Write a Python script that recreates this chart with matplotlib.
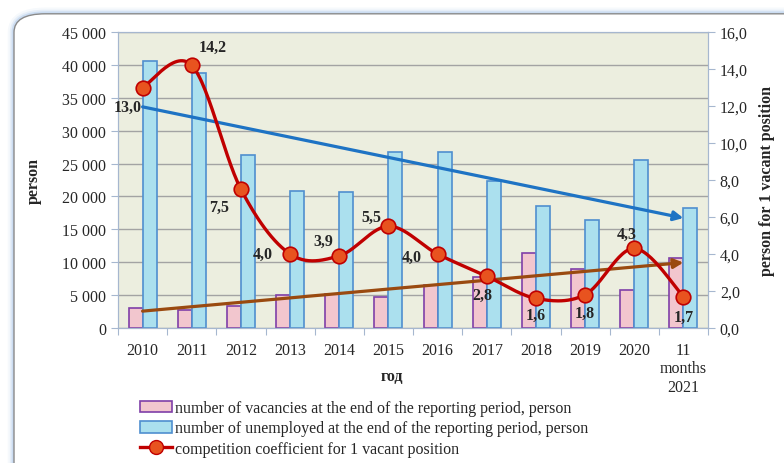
import numpy as np
import matplotlib
matplotlib.use("Agg")
import matplotlib.pyplot as plt
from matplotlib.patches import FancyBboxPatch, Patch
from matplotlib.lines import Line2D

years = ['2010', '2011', '2012', '2013', '2014', '2015', '2016', '2017',
         '2018', '2019', '2020', '11\nmonths\n2021']
vacancies = [3000, 2700, 3350, 5060, 5150, 4760, 6530, 7800, 11400, 8900, 5830, 10600]
unemployed = [40600, 38800, 26250, 20800, 20700, 26800, 26800, 22400, 18600, 16450, 25500, 18300]
coef = [13.0, 14.2, 7.5, 4.0, 3.9, 5.5, 4.0, 2.8, 1.6, 1.8, 4.3, 1.7]
# label offsets in pixels (dx, dy)
label_off = [(-15, -19), (21, 18), (-22, -18), (-27, 0), (-16, 15), (-17, 9),
             (-26, -3), (-4, -19), (0, -16), (0, -18), (-8, 15), (0, -20)]

plt.rcParams['font.family'] = 'Liberation Serif'
txt = '#262626'

fig = plt.figure(figsize=(7.84, 4.64), dpi=100)

# rounded frame with bluish glow
for lw, a in [(9, 0.08), (6, 0.15), (3.5, 0.3)]:
    fig.patches.append(FancyBboxPatch((14 / 784, -0.2), 1.2, (449 + 93) / 464,
                                      boxstyle="round,pad=0,rounding_size=0.04",
                                      transform=fig.transFigure, fc='none',
                                      ec='#8DB4E2', lw=lw, alpha=a, zorder=-2))
fig.patches.append(FancyBboxPatch((14 / 784, -0.2), 1.2, (449 + 93) / 464,
                                  boxstyle="round,pad=0,rounding_size=0.04",
                                  transform=fig.transFigure, fc='white',
                                  ec='#8A8A8A', lw=1.0, zorder=-1))

ax = fig.add_axes([118 / 784, 1 - 329 / 464, 590 / 784, 296 / 464])
ax.set_facecolor('#ECEEDF')
x = np.arange(len(years))
w = 0.285
ax.bar(x - w / 2, vacancies, w, color='#F2C6CE', edgecolor='#7F3FA8', lw=1.2, zorder=2)
ax.bar(x + w / 2, unemployed, w, color='#ABE0EE', edgecolor='#4F8FCF', lw=1.2, zorder=2)

ax.set_ylim(0, 45000)
ax.set_xlim(-0.5, len(years) - 0.5)
ax.set_yticks(np.arange(0, 45001, 5000))
ax.set_yticklabels([f"{v:,}".replace(',', ' ') for v in range(0, 45001, 5000)])
ax.yaxis.grid(True, color='#A3A3A3', lw=1)
ax.set_axisbelow(True)
ax.set_xticks(np.arange(-0.5, len(years), 1))
ax.set_xticklabels([])
ax.set_xticks(x, minor=True)
ax.set_xticklabels(years, minor=True, fontsize=11.5, color=txt, linespacing=1.2)
ax.tick_params(axis='x', which='minor', length=0, pad=10)
ax.tick_params(axis='x', which='major', length=5, color='#A6B7CF')
ax.tick_params(axis='y', length=5, color='#A6B7CF', labelsize=11.5, labelcolor=txt)
for s in ax.spines.values():
    s.set_color('#A6B7CF')
ax.set_ylabel('person', fontsize=11.5, fontweight='bold', color=txt, labelpad=15)
fig.text(392 / 784, 1 - 377 / 464, 'год', fontsize=11.5, fontweight='bold',
         color=txt, ha='center', va='center')

# linear trends with arrows
for data, col in [(unemployed, '#1E73C4'), (vacancies, '#9A4A10')]:
    k, b = np.polyfit(x, data, 1)
    ax.annotate('', xy=(x[-1], k * x[-1] + b), xytext=(x[0], k * x[0] + b),
                arrowprops=dict(arrowstyle='-|>', color=col, lw=2.3,
                                mutation_scale=14, shrinkA=0, shrinkB=0), zorder=4)

ax2 = ax.twinx()
ax2.set_ylim(0, 16)
ax2.set_yticks(np.arange(0, 16.1, 2))
ax2.set_yticklabels([f"{v:.1f}".replace('.', ',') for v in np.arange(0, 16.1, 2)])
ax2.tick_params(axis='y', length=5, color='#A6B7CF', labelsize=11.5, labelcolor=txt)
for s in ax2.spines.values():
    s.set_color('#A6B7CF')
ax2.set_ylabel('person for 1 vacant position', fontsize=11.5, fontweight='bold',
               color=txt, labelpad=8)

# smoothed line (bezier through points, excel-like)
px = x.astype(float)
py = np.array(coef)
sx, sy = [], []
t = np.linspace(0, 1, 30)
for i in range(len(px) - 1):
    p0 = np.array([px[i], py[i]])
    p3 = np.array([px[i + 1], py[i + 1]])
    prev = np.array([px[i - 1], py[i - 1]]) if i > 0 else p0
    nxt = np.array([px[i + 2], py[i + 2]]) if i + 2 < len(px) else p3
    p1 = p0 + (p3 - prev) / 6
    p2 = p3 - (nxt - p0) / 6
    seg = ((1 - t) ** 3)[:, None] * p0 + (3 * (1 - t) ** 2 * t)[:, None] * p1 \
        + (3 * (1 - t) * t ** 2)[:, None] * p2 + (t ** 3)[:, None] * p3
    sx.extend(seg[:, 0])
    sy.extend(seg[:, 1])
ax2.plot(sx, sy, color='#C00000', lw=2.4, zorder=5)
ax2.plot(px, py, 'o', ms=10.5, mfc='#E8531F', mec='#C00000', mew=1.2, zorder=6)
for xi, v, (dx, dy) in zip(px, coef, label_off):
    ax2.annotate(f"{v:.1f}".replace('.', ','), (xi, v), xytext=(dx, dy),
                 textcoords='offset pixels', ha='center', va='center',
                 fontsize=11.5, fontweight='bold', color=txt, zorder=7)

handles = [Patch(fc='#F2C6CE', ec='#7F3FA8', lw=1.2),
           Patch(fc='#ABE0EE', ec='#4F8FCF', lw=1.2),
           Line2D([], [], color='#C00000', lw=2.4, marker='o', ms=10,
                  mfc='#E8531F', mec='#C00000')]
labels = ['number of vacancies at the end of the reporting period, person',
          'number of unemployed at the end of the reporting period, person',
          'competition coefficient for 1 vacant position']
fig.legend(handles, labels, loc='upper left', bbox_to_anchor=(140 / 784, 1 - 401 / 464),
           frameon=False, fontsize=11.5, handlelength=2.0, handleheight=0.75,
           handletextpad=0.2, labelspacing=0.28, borderaxespad=0, borderpad=0,
           labelcolor=txt)

fig.savefig('out.png', dpi=100)
